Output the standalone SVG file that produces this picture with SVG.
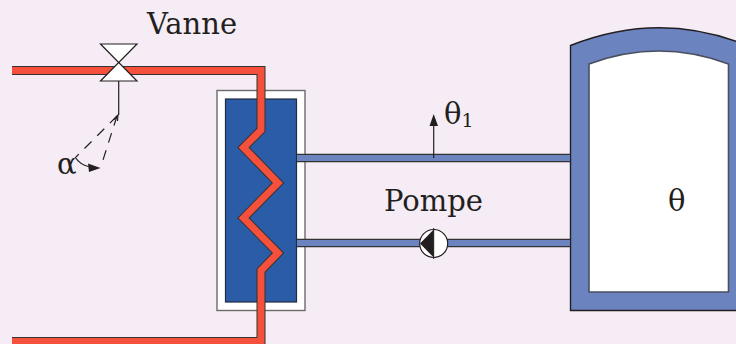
<svg xmlns="http://www.w3.org/2000/svg" width="736" height="344" viewBox="0 0 736 344">
<style>
text{font-family:"DejaVu Serif","Liberation Serif",serif;fill:#231f20}
.lbl{font-size:29px}
.line{fill:none;stroke:#231f20;stroke-width:1.2}
.dash{fill:none;stroke:#231f20;stroke-width:1.2;stroke-dasharray:10 8}
.pipeo{fill:none;stroke:#333;stroke-miterlimit:10}
.red{fill:none;stroke:#f4503b;stroke-miterlimit:10}
</style>
<rect width="736" height="344" fill="#f5ecf5"/>
<g id="exchanger">
<rect x="217" y="90.500" width="88" height="220" fill="#fff" stroke="#6d6a6b" stroke-width="1.4"/>
<rect x="225.500" y="99" width="71" height="203" fill="#2b5ca8" stroke="#222b40" stroke-width="1.2"/>
</g>
<g id="tank">
<path d="M570.500 45.500Q660 10 747 45.500V310.500H570.500Z" fill="#6b83bf" stroke="#231f20" stroke-width="1.4"/>
<path d="M589 64Q659 38 728.500 64V292H589Z" fill="#fff" stroke="#4a4f60" stroke-width="1.6"/>
</g>
<g id="connectors">
<path d="M297 158H570M297 243H570" fill="none" stroke="#333" stroke-width="8.500"/>
<path d="M297 158H570M297 243H570" fill="none" stroke="#6b83bf" stroke-width="6"/>
<path id="hot-outline" class="pipeo" stroke-width="9" d="M12 70.500H261V130L243.500 147.500L278 183L243.500 218L278 253L261 270.500V341.500H12"/>
<path id="hot" class="red" stroke-width="7" d="M12 70.500H261V130L243.500 147.500L278 183L243.500 218L278 253L261 270.500V341.500H12"/>
<path class="line" d="M118.700 62V115"/>
<path class="dash" d="M117 116L76 157"/>
<path class="dash" d="M117 116L103 160"/>
<path class="line" d="M114 119.500L118 115L117.500 121"/>
<path class="line" d="M75 157Q80 165 90 167"/>
<path d="M100.500 168L88 163.500L89 172Z" fill="#231f20"/>
<path class="line" d="M433.700 158V122"/>
<path d="M433.700 114L429.500 126H438Z" fill="#231f20"/>
</g>
<g id="valve">
<path d="M100.500 44H137L118.700 62.500L137 81H100.500L118.700 62.500Z" fill="#fff" stroke="#231f20" stroke-width="1.2" stroke-linejoin="miter"/>
</g>
<g id="pump">
<circle cx="433.700" cy="243.500" r="14" fill="#fff" stroke="#231f20" stroke-width="1.200"/>
<path d="M433.700 229.500V257.500L420 243.500Z" fill="#231f20"/>
<path d="M433.700 228V259" stroke="#231f20" stroke-width="1"/>
</g>
<g id="labels">
<text class="lbl" x="147" y="34">Vanne</text>
<text class="lbl" x="57" y="174">α</text>
<text class="lbl" x="444" y="124">θ<tspan font-size="19" dy="3">1</tspan></text>
<text class="lbl" x="384" y="211">Pompe</text>
<text class="lbl" x="668" y="211">θ</text>
</g>
</svg>
